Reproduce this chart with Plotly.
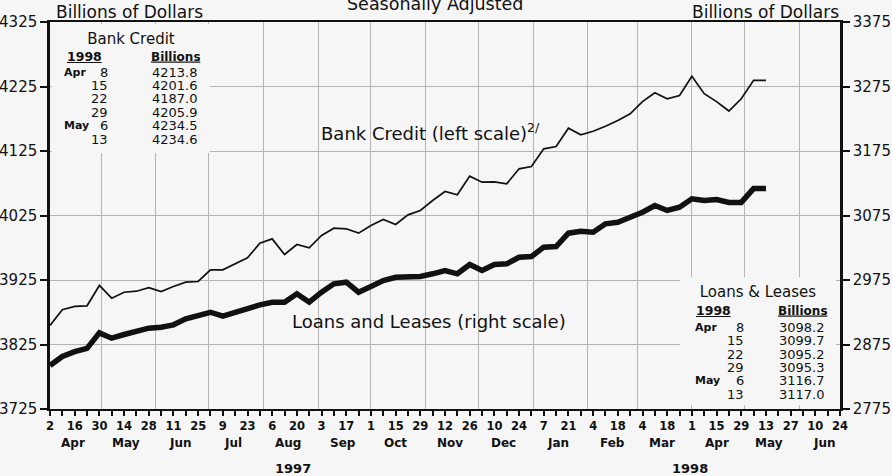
import plotly.graph_objects as go
import pandas as pd

# ---------------- data ----------------
week_dates = pd.date_range("1997-04-02", periods=59, freq="7D")

bank_credit = [
    3854.5, 3878.8, 3884.0, 3885.0, 3916.5, 3896.8, 3906.0, 3907.6, 3913.0, 3907.0,
    3915.0, 3921.6, 3922.7, 3940.8, 3940.8, 3950.0, 3959.4,
    3982.1, 3988.8, 3964.5, 3980.0, 3974.9, 3994.0, 4005.3, 4004.4, 3997.6, 4009.5,
    4018.8, 4011.0, 4026.0, 4032.8, 4048.3, 4062.2,
    4057.1, 4086.0, 4076.6, 4077.2, 4074.1, 4097.4, 4101.0, 4128.4, 4132.0, 4160.3,
    4150.1, 4155.7, 4163.4, 4172.3, 4182.7, 4201.5, 4215.2, 4206.0, 4211.0, 4241.0,
    4213.8, 4201.6, 4187.0, 4205.9, 4234.5, 4234.6,
]

loans_leases = [
    2842.4, 2856.4, 2864.0, 2869.0, 2893.0, 2884.8, 2890.5, 2895.6, 2900.3, 2901.9,
    2905.5, 2914.8, 2918.9, 2925.0, 2919.0, 2925.0, 2928.8,
    2936.5, 2940.6, 2940.6, 2953.6, 2940.6, 2956.1, 2969.1, 2971.6, 2956.1, 2964.9,
    2974.2, 2979.3, 2980.4, 2980.4, 2984.6, 2989.5,
    2984.6, 2999.0, 2989.7, 2999.0, 3000.1, 3010.3, 3011.4, 3025.9, 3026.9, 3047.6,
    3050.7, 3049.1, 3062.1, 3064.6, 3072.4, 3080.0, 3090.5, 3082.8, 3087.9, 3100.9,
    3098.2, 3099.7, 3095.2, 3095.3, 3116.7, 3117.0,
]

# weekly tick marks, every other one labelled with the day of month
tick_dates = pd.date_range("1997-04-02", "1998-06-24", freq="7D")
day_labels = ["2", "16", "30", "14", "28", "11", "25", "9", "23", "6", "20", "3", "17",
              "1", "15", "29", "12", "26", "10", "24", "7", "21", "4", "18", "4", "18",
              "1", "15", "29", "13", "27", "10", "24"]
tick_labels = []
for k in range(len(tick_dates)):
    tick_labels.append(day_labels[k // 2] if k % 2 == 0 else "")

month_labels = ["Apr", "May", "Jun", "Jul", "Aug", "Sep", "Oct", "Nov", "Dec",
                "Jan", "Feb", "Mar", "Apr", "May", "Jun"]
month_mid = pd.date_range("1997-04-01", periods=15, freq="MS") + pd.Timedelta(days=14)
grid_dates = pd.date_range("1997-05-01", periods=14, freq="MS")

year_labels = ["1997", "1998"]
year_pos = ["1997-08-18", "1998-03-31"]

left_ticks = [3725, 3825, 3925, 4025, 4125, 4225, 4325]
right_ticks = [2775, 2875, 2975, 3075, 3175, 3275, 3375]

table_months = ["Apr", "", "", "", "May", ""]
table_days = ["8", "15", "22", "29", "6", "13"]
bc_table_vals = ["4213.8", "4201.6", "4187.0", "4205.9", "4234.5", "4234.6"]
ll_table_vals = ["3098.2", "3099.7", "3095.2", "3095.3", "3116.7", "3117.0"]

# ---------------- style ----------------
FONT = "DejaVu Sans"
INK = "#111111"
BG = "#f6f6f6"
GRID = "#b4b4b4"
W, H = 892, 476
L, R, T, B = 50, 52, 22, 67
PW, PH = W - L - R, H - T - B


def px(xp):
    return (xp - L) / PW


def py(yp):
    return (H - B - yp) / PH


fig = go.Figure()
fig.add_trace(go.Scatter(x=week_dates, y=bank_credit, mode="lines",
                         line=dict(color=INK, width=1.7), xaxis="x", yaxis="y",
                         showlegend=False, hoverinfo="skip"))
fig.add_trace(go.Scatter(x=week_dates, y=loans_leases, mode="lines",
                         line=dict(color=INK, width=5.5), xaxis="x2", yaxis="y2",
                         showlegend=False, hoverinfo="skip"))

xrange = ["1997-04-02", "1998-06-24"]

annotations = []


def ann(text, xp, yp, size=12, xanchor="center", weight="normal", **kw):
    annotations.append(dict(text=text, x=px(xp), y=py(yp), xref="paper", yref="paper",
                            xanchor=xanchor, yanchor="middle", showarrow=False,
                            font=dict(family=FONT, size=size, color=INK, weight=weight),
                            **kw))


def titled_box(title, x0, y0, x1, y1, pad=6):
    # inset-table panel: background masks the grid, title sits at its top centre
    annotations.append(dict(text=title, x=px(x0), y=py(y0), xref="paper", yref="paper",
                            xanchor="left", yanchor="top", showarrow=False,
                            width=x1 - x0 - 2 * pad, height=y1 - y0 - 2 * pad,
                            align="center", valign="top", bgcolor=BG,
                            borderpad=pad, borderwidth=0,
                            font=dict(family=FONT, size=15, color=INK)))


# headers
ann("Billions of Dollars", 54, 12, size=17, xanchor="left")
ann("Billions of Dollars", 841, 12, size=17, xanchor="right")
ann("Seasonally Adjusted", 435, 4, size=17.5)

# line labels
ann("Bank Credit (left scale)<sup>2/</sup>", 430, 132, size=18)
ann("Loans and Leases (right scale)", 429, 321, size=18)


def table(vals, hy, x1998, xbil, row0, step, xmon, xday, xval):
    rowkw = dict(height=13, borderpad=0)
    ann("<u>1998</u>", x1998, hy, size=12.5, weight="bold", **rowkw)
    ann("<u>Billions</u>", xbil, hy, size=12, weight="bold", **rowkw)
    for i in range(6):
        yy = row0 + i * step
        if table_months[i]:
            ann(table_months[i], xmon, yy, size=11, xanchor="left", weight="bold", **rowkw)
        ann(table_days[i], xday, yy, size=13, xanchor="right", **rowkw)
        ann(vals[i], xval, yy, size=13, xanchor="right", **rowkw)


titled_box("Bank Credit", 52, 24, 210, 153)
table(bc_table_vals, 56.5, 84, 175.5, 72, 13.5, 63, 109, 199)
titled_box("Loans &amp; Leases", 680, 277, 836, 405)
table(ll_table_vals, 310, 713, 803, 327.3, 13.4, 694, 745, 826)

# month and year labels under the axis
for m, d in zip(month_labels, month_mid):
    annotations.append(dict(text=m, x=d, xref="x", y=0, yref="paper", yanchor="middle",
                            yshift=-34, showarrow=False,
                            font=dict(family=FONT, size=12, color=INK, weight="bold")))
for t, d in zip(year_labels, year_pos):
    annotations.append(dict(text=t, x=d, xref="x", y=0, yref="paper", yanchor="middle",
                            yshift=-59, showarrow=False,
                            font=dict(family=FONT, size=13, color=INK, weight="bold")))

fig.update_layout(
    width=W, height=H,
    margin=dict(l=L, r=R, t=T, b=B, pad=0, autoexpand=False),
    paper_bgcolor=BG, plot_bgcolor=BG,
    font=dict(family=FONT, color=INK),
    showlegend=False,
    xaxis=dict(type="date", range=xrange, tickmode="array", tickvals=tick_dates,
               ticktext=tick_labels, ticks="outside", ticklen=5, tickwidth=1.5,
               tickcolor=INK, tickfont=dict(family=FONT, size=11.5, color=INK, weight="bold"),
               showgrid=False, zeroline=False, automargin=False,
               showline=True, mirror=True, linecolor=INK, linewidth=2),
    xaxis2=dict(type="date", range=xrange, overlaying="x", anchor="y2", side="bottom",
                tickmode="array", tickvals=grid_dates, showticklabels=False, ticks="",
                showgrid=True, gridcolor=GRID, gridwidth=1, automargin=False,
                showline=False, zeroline=False),
    yaxis=dict(range=[3725, 4325], tickmode="array", tickvals=left_ticks,
               ticks="outside", ticklen=7, tickwidth=1.5, tickcolor=INK,
               tickfont=dict(family=FONT, size=15, color=INK),
               showgrid=True, gridcolor=GRID, gridwidth=1, zeroline=False,
               automargin=False,
               showline=True, linecolor=INK, linewidth=2.5),
    yaxis2=dict(range=[2775, 3375], overlaying="y", side="right", anchor="x2",
                tickmode="array", tickvals=right_ticks,
                ticks="outside", ticklen=7, tickwidth=1.5, tickcolor=INK,
                tickfont=dict(family=FONT, size=15, color=INK),
                showgrid=False, zeroline=False, automargin=False,
                showline=True, linecolor=INK, linewidth=2.5),
    annotations=annotations,
)

fig.write_html("out.html", config={"displayModeBar": False},
               post_script="document.body.style.margin='0px';")
